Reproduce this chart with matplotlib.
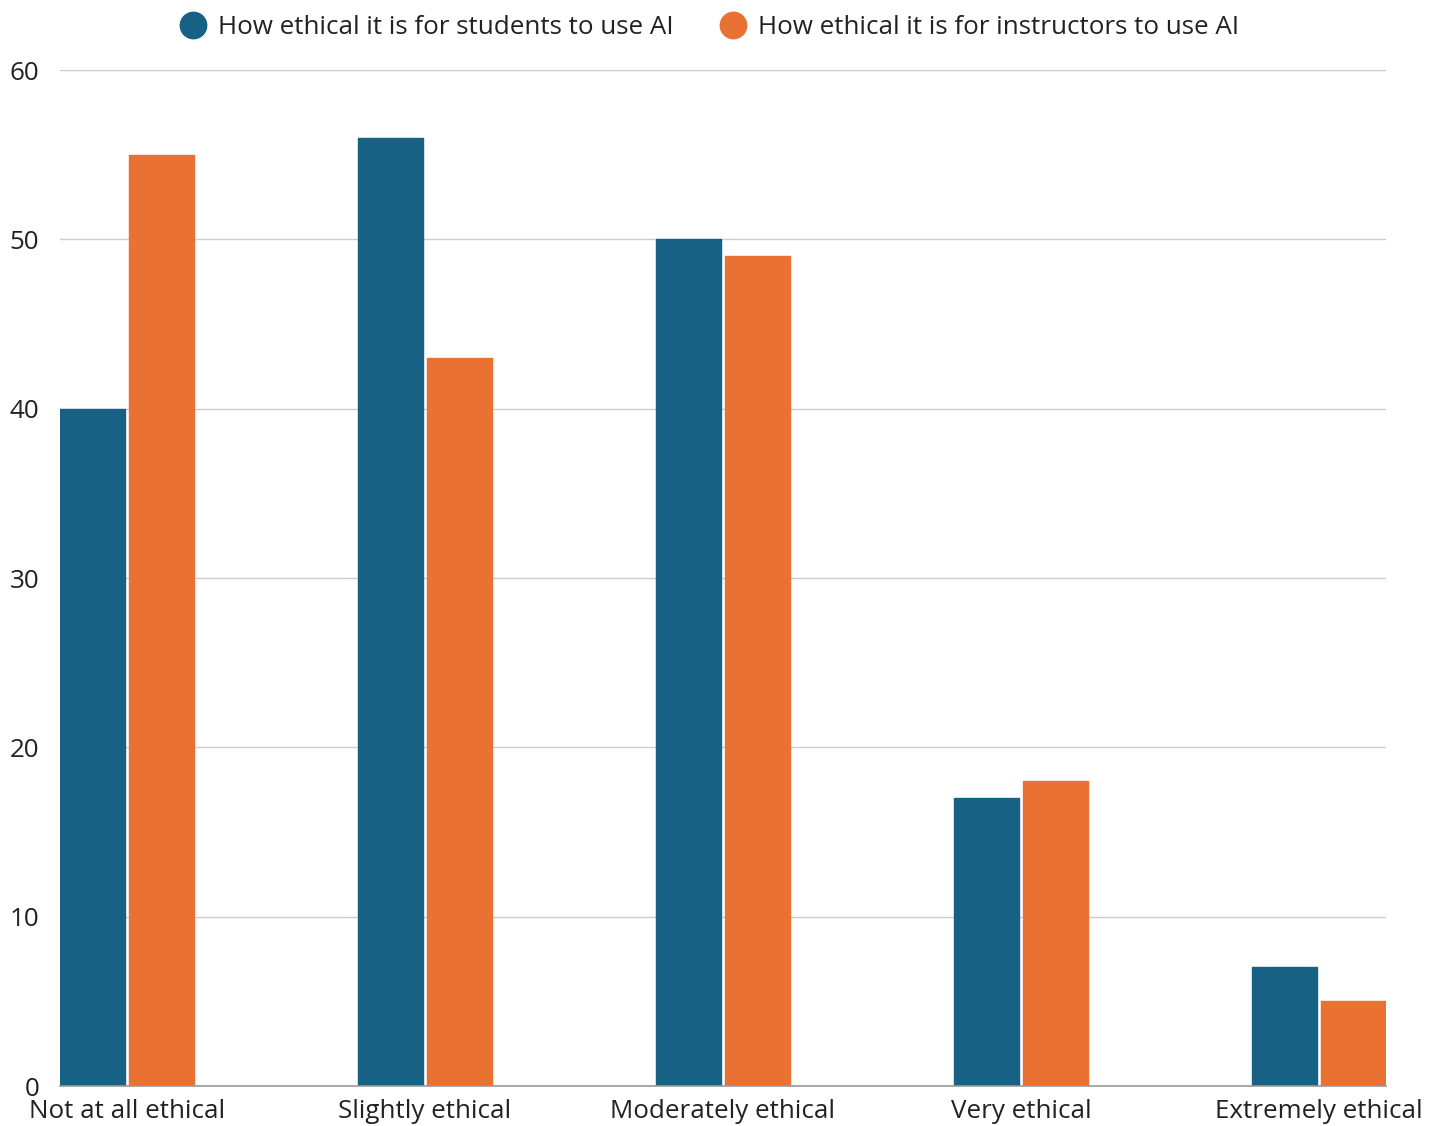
import numpy as np
import matplotlib.pyplot as plt
from matplotlib.lines import Line2D

plt.rcParams['font.family'] = ['Open Sans', 'DejaVu Sans']

categories = ['Not at all ethical', 'Slightly ethical', 'Moderately ethical',
              'Very ethical', 'Extremely ethical']
students = [40, 56, 50, 17, 7]
instructors = [55, 43, 49, 18, 5]
series_names = ['How ethical it is for students to use AI',
                'How ethical it is for instructors to use AI']
yticks = [0, 10, 20, 30, 40, 50, 60]

blue = '#176185'
orange = '#E97132'

fig = plt.figure(figsize=(14.4, 11.26), dpi=100)
ax = fig.add_axes([60 / 1440, 40 / 1126, 1326 / 1440, 1016 / 1126])

x = np.arange(len(categories))
w = 0.2175
gap = 0.0075
ax.bar(x - w / 2 - gap, students, width=w, color=blue, zorder=3,
       edgecolor=blue, linewidth=1, joinstyle='round')
ax.bar(x + w / 2 + gap, instructors, width=w, color=orange, zorder=3,
       edgecolor=orange, linewidth=1, joinstyle='round')

ax.set_xlim(-0.225, 4.225)
ax.set_ylim(0, 60)
ax.set_yticks(yticks)
ax.set_xticks(x)
ax.set_xticklabels(categories)
ax.tick_params(axis='both', length=0, labelsize=18.7, labelcolor='#222222')
ax.tick_params(axis='y', pad=15)
ax.tick_params(axis='x', pad=9.5)
ax.grid(axis='y', color='#cccccc', linewidth=1, zorder=0)
for s in ['top', 'right', 'left']:
    ax.spines[s].set_visible(False)
ax.spines['bottom'].set_color('#999999')
ax.spines['bottom'].set_linewidth(1.2)
ax.spines['bottom'].set_zorder(4)

handles = [Line2D([], [], marker='o', linestyle='', markersize=19,
                  markerfacecolor=c, markeredgecolor=c) for c in (blue, orange)]
fig.legend(handles, series_names, loc='upper center', bbox_to_anchor=(0.4927, 1.007),
           ncol=2, frameon=False, fontsize=18.7, handlelength=1.0,
           handletextpad=0.45, columnspacing=1.8, labelcolor='#222222')

fig.savefig('out.png', dpi=100)
